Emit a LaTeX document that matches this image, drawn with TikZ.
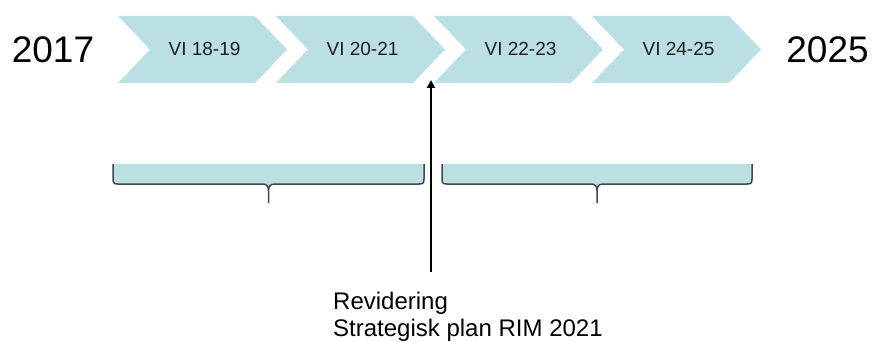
\documentclass[tikz,border=0pt]{standalone}
\usepackage{fontspec}
\setmainfont{Liberation Sans}
\usetikzlibrary{arrows.meta}
\definecolor{chevblue}{RGB}{187,224,228}
\definecolor{braceline}{RGB}{70,70,70}
\definecolor{labeltext}{RGB}{30,30,30}

\begin{document}
\begin{tikzpicture}[x=1pt, y=-1pt,
    chevron/.style={fill=chevblue},
    periodlabel/.style={text=labeltext, font=\fontsize{19}{22}\selectfont, inner sep=0pt, anchor=base},
    yearlabel/.style={font=\fontsize{37}{44}\selectfont, inner sep=0pt, anchor=base},
    periodbrace/.style={fill=chevblue, draw=braceline, line width=1.5pt, line join=round}]
    \useasboundingbox (0,0) rectangle (872,342);

    % Chevrons, one per period
    \foreach \per [count=\i] in {18-19, 20-21, 22-23, 24-25} {
      \pgfmathsetmacro{\px}{118+158*(\i-1)}
      \fill[chevron] (\px,16) -- ++(137,0) -- ++(32,33.5) -- ++(-32,33.5) -- ++(-137,0) -- ++(32,-33.5) -- cycle;
      \node[periodlabel] (p\i) at (\px+86.5,56) {VI \per};
    }

    % Years
    \node[yearlabel] (start) at (53,63) {2017};
    \node[yearlabel] (end) at (827.5,63) {2025};

    % Braces under the periods
    \foreach \a/\b in {113/424, 442/752} {
      \pgfmathsetmacro{\m}{(\a+\b)/2}
      \draw[periodbrace] (\a,164) -- (\a,179) .. controls (\a,183) and (\a+1,184) .. (\a+5,184)
        -- (\m-6,184) .. controls (\m-2,184) and (\m,186) .. (\m,191)
        .. controls (\m,186) and (\m+2,184) .. (\m+6,184)
        -- (\b-5,184) .. controls (\b-1,184) and (\b,183) .. (\b,179) -- (\b,164)
        (\m,191) -- (\m,203);
    }

    % Revision arrow
    \coordinate (revbot) at (431,272);
    \coordinate (revtop) at (431,80);
    \draw[-{Triangle[length=8pt,width=8pt]}, line width=2.2pt] (revbot) -- (revtop);

    % Revision note
    \node[anchor=base west, align=left, inner sep=0pt, font=\fontsize{24}{27}\selectfont] (note) at (333,336) {Revidering\\Strategisk plan RIM 2021};
\end{tikzpicture}
\end{document}
